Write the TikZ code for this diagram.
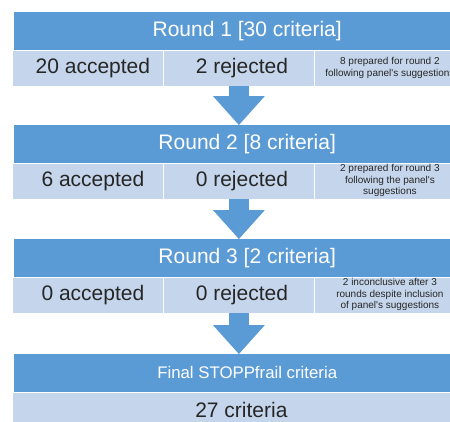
\documentclass[tikz,border=0pt]{standalone}
\usepackage{fontspec}
\setmainfont{Liberation Sans}
\usetikzlibrary{arrows.meta}
\definecolor{roundblue}{HTML}{5B9BD5}
\definecolor{celllight}{HTML}{C5D6EC}
\definecolor{celltext}{HTML}{262626}
\begin{document}
\begin{tikzpicture}[x=1pt,y=-1pt,
    header/.style={fill=roundblue,text=white,anchor=north west,inner sep=0pt,
      minimum width=466pt,minimum height=37.5pt,font=\fontsize{21}{24}\selectfont},
    cell/.style={fill=celllight,draw=white,line width=0.8pt,anchor=north west,inner sep=0pt,
      minimum width=151pt,minimum height=36pt,text=celltext,font=\fontsize{21}{24}\selectfont},
    note/.style={cell,align=center,font=\fontsize{10}{11.5}\selectfont},
    down/.style={draw=roundblue,line width=20pt,
      -{Triangle[width=52pt,length=29pt,line width=0pt]}}]
  \clip (0,0) rectangle (450,421);
  \fill[white] (0,0) rectangle (450,421);
  % round 1
  \node[header] (r1) at (14,12) {Round 1 [30 criteria]};
  \node[cell] (acc1) at (12,49.5) {\hspace{10pt}20 accepted};
  \node[cell] (rej1) at (163,49.5) {\hspace{6pt}2 rejected};
  \node[note] (next1) at (314,49.5) {8 prepared for round 2\\following panel\textquotesingle s suggestions};
  % round 2
  \node[header] (r2) at (14,125) {Round 2 [8 criteria]};
  \node[cell] (acc2) at (12,162.5) {\hspace{10pt}6 accepted};
  \node[cell] (rej2) at (163,162.5) {\hspace{6pt}0 rejected};
  \node[note] (next2) at (314,162.5) {2 prepared for round 3\\following the panel\textquotesingle s\\suggestions};
  % round 3
  \node[header] (r3) at (14,239) {Round 3 [2 criteria]};
  \node[cell] (acc3) at (12,276.5) {\hspace{10pt}0 accepted};
  \node[cell] (rej3) at (163,276.5) {\hspace{6pt}0 rejected};
  \node[note] (next3) at (314,276.5) {2 inconclusive after 3\\rounds despite inclusion\\of panel\textquotesingle s suggestions};
  % final
  \node[header,font=\fontsize{16.8}{20}\selectfont] (fin) at (14,354) {Final STOPPfrail criteria};
  \node[cell,minimum width=458pt] (total) at (12,391.5) {27 criteria};
  \begin{scope}[down]
    \draw (rej1.south) -- (rej1.south |- r2.north);
    \draw (rej2.south) -- (rej2.south |- r3.north);
    \draw (rej3.south) -- (rej3.south |- fin.north);
  \end{scope}
\end{tikzpicture}
\end{document}
